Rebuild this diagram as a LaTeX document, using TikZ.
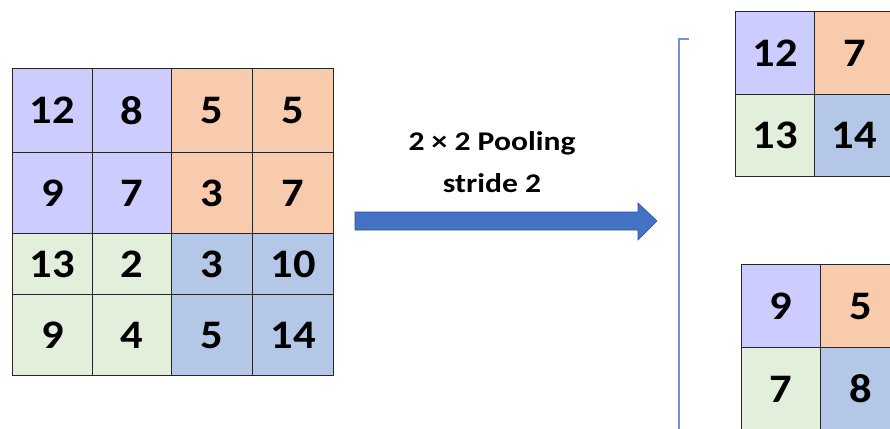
\documentclass[tikz,border=0pt]{standalone}
\usepackage{fontspec}
\setmainfont{Carlito}
\newfontfamily\digitfont[FakeStretch=1.1]{Carlito}
\newfontfamily\labelfont[FakeStretch=1.17]{Carlito}
\definecolor{cpurple}{HTML}{CCCCFF}
\definecolor{corange}{HTML}{F8CBAD}
\definecolor{cgreen}{HTML}{E2EFDA}
\definecolor{cblue}{HTML}{B4C7E7}
\definecolor{arrowblue}{HTML}{4472C4}
\definecolor{arrowedge}{HTML}{2F528F}
\definecolor{bracketblue}{HTML}{7094D6}
\tikzset{
  cell/.style={draw=black!85, line width=1.1pt, rectangle, inner sep=0pt, anchor=north west,
    font=\digitfont\fontsize{40.5}{43}\selectfont\bfseries},
  lbl/.style={font=\labelfont\fontsize{27}{30}\selectfont\bfseries, inner sep=0pt, anchor=base}
}
\newcommand{\mycell}[7]{% name, x, y, w, h, color, text
  \node[cell, fill=#6, minimum width=#4pt, minimum height=#5pt] (#1) at (#2,#3) {#7};}
\begin{document}
\begin{tikzpicture}[x=1pt,y=-1pt]
\useasboundingbox (0,0) rectangle (890,428);
\clip (0,0) rectangle (890,428);
% left grid
\mycell{a11}{12}{68}{80}{84}{cpurple}{12}
\mycell{a12}{92}{68}{79}{84}{cpurple}{8}
\mycell{a13}{171}{68}{81}{84}{corange}{5}
\mycell{a14}{252}{68}{81}{84}{corange}{5}
\mycell{a21}{12}{152}{80}{81}{cpurple}{9}
\mycell{a22}{92}{152}{79}{81}{cpurple}{7}
\mycell{a23}{171}{152}{81}{81}{corange}{3}
\mycell{a24}{252}{152}{81}{81}{corange}{7}
\mycell{a31}{12}{233}{80}{61}{cgreen}{13}
\mycell{a32}{92}{233}{79}{61}{cgreen}{2}
\mycell{a33}{171}{233}{81}{61}{cblue}{3}
\mycell{a34}{252}{233}{81}{61}{cblue}{10}
\mycell{a41}{12}{294}{80}{81}{cgreen}{9}
\mycell{a42}{92}{294}{79}{81}{cgreen}{4}
\mycell{a43}{171}{294}{81}{81}{cblue}{5}
\mycell{a44}{252}{294}{81}{81}{cblue}{14}
% top right grid
\mycell{b11}{735}{11}{79}{83}{cpurple}{12}
\mycell{b12}{814}{11}{80}{83}{corange}{7}
\mycell{b21}{735}{94}{79}{82}{cgreen}{13}
\mycell{b22}{814}{94}{80}{82}{cblue}{14}
% bottom right grid
\mycell{c11}{741}{264}{79}{83}{cpurple}{9}
\mycell{c12}{820}{264}{80}{83}{corange}{5}
\mycell{c21}{741}{347}{79}{83}{cgreen}{7}
\mycell{c22}{820}{347}{80}{83}{cblue}{8}
% label
\node[lbl] (l1) at (492,150) {2 × 2 Pooling};
\node[lbl] (l2) at (492,192) {stride 2};
% arrow
\filldraw[fill=arrowblue, draw=arrowedge, line width=0.6pt]
  (355,212) -- (638,212) -- (638,203) -- (657,221) -- (638,240) -- (638,230) -- (355,230) -- cycle;
% bracket
\draw[bracketblue, line width=1.4pt] (689,39) -- (679,39) -- (679,430);
\end{tikzpicture}
\end{document}
